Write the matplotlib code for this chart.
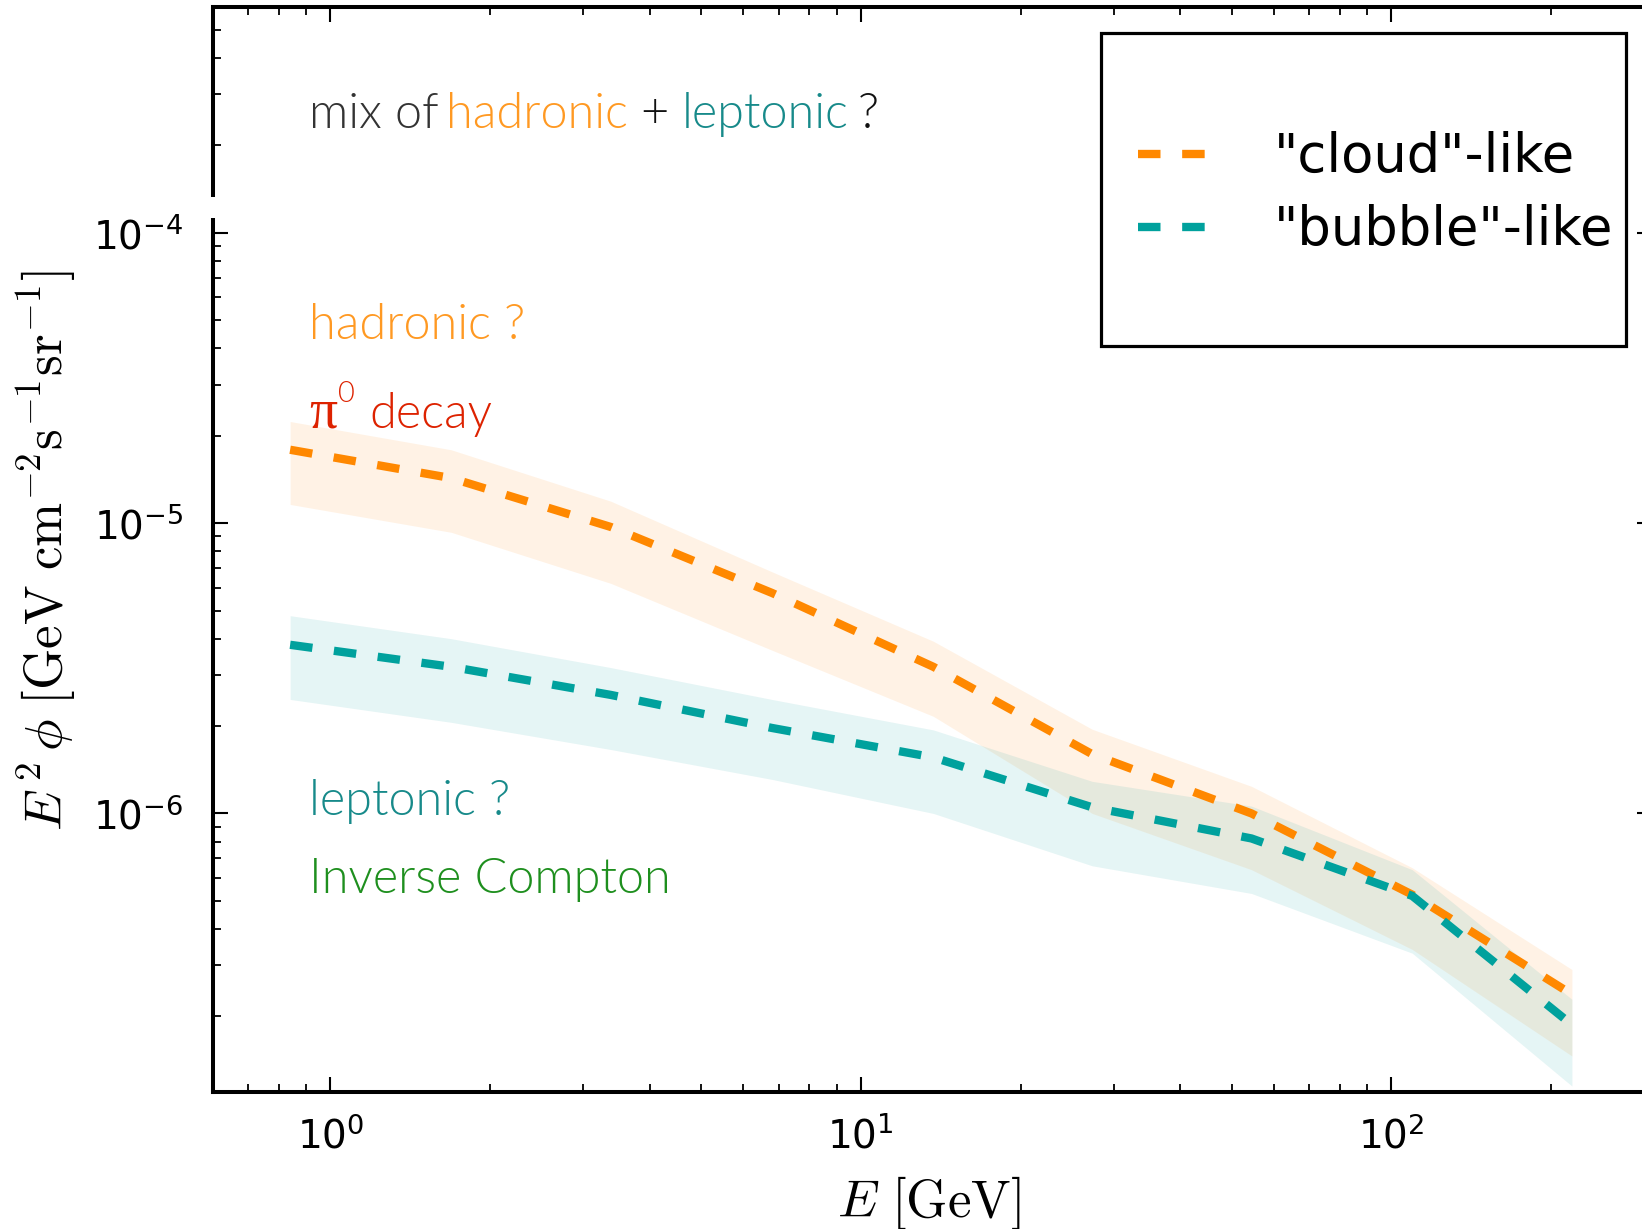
import matplotlib
matplotlib.use("Agg")
import matplotlib.pyplot as plt
from matplotlib import font_manager as fm
from matplotlib.font_manager import FontProperties
from matplotlib.patches import Rectangle
from matplotlib import patheffects as pe
from matplotlib.ticker import LogLocator, FuncFormatter, NullFormatter

# ---------------- data ----------------
energy = [0.84, 1.69, 3.38, 6.8, 13.7, 27.3, 54.5, 109.5, 219.0]

cloud_mid = [1.79e-5, 1.43e-5, 9.7e-6, 5.75e-6, 3.2e-6, 1.6e-6, 1.0e-6, 5.25e-7, 2.38e-7]
cloud_hi = [2.24e-5, 1.79e-5, 1.19e-5, 6.8e-6, 3.92e-6, 1.95e-6, 1.24e-6, 6.5e-7, 2.9e-7]
cloud_lo = [1.16e-5, 9.3e-6, 6.2e-6, 3.65e-6, 2.16e-6, 1.0e-6, 6.4e-7, 3.4e-7, 1.46e-7]

bubble_mid = [3.81e-6, 3.2e-6, 2.56e-6, 1.97e-6, 1.56e-6, 1.05e-6, 8.2e-7, 5.2e-7, 1.87e-7]
bubble_hi = [4.8e-6, 4.0e-6, 3.18e-6, 2.47e-6, 1.94e-6, 1.29e-6, 1.06e-6, 6.4e-7, 2.29e-7]
bubble_lo = [2.47e-6, 2.06e-6, 1.66e-6, 1.31e-6, 1.0e-6, 6.6e-7, 5.3e-7, 3.3e-7, 1.15e-7]

series_labels = ['"cloud"-like', '"bubble"-like']

# ---------------- styling ----------------
ORANGE = "#FF8800"
TEAL = "#00A19D"
C_ORANGE_TXT = "#FF9922"
C_TEAL_TXT = "#178A8A"
C_RED_TXT = "#DD2200"
C_GREEN_TXT = "#1E8F1E"
C_DARK = "#333333"

plt.rcParams["mathtext.fontset"] = "dejavusans"

W, H = 1642, 1229
AX_L, AX_R, AX_T, AX_B = 212.6, 1652.0, 7.0, 1091.7
AX_W, AX_H = AX_R - AX_L, AX_B - AX_T

fig = plt.figure(figsize=(W / 100, H / 100), dpi=100)
ax = fig.add_axes([AX_L / W, 1 - AX_B / H, AX_W / W, AX_H / H])

ax.set_xscale("log")
ax.set_yscale("log")
ax.set_xlim(0.6, 310)
ax.set_ylim(1.1e-7, 6e-4)

# bands
ax.fill_between(energy, cloud_lo, cloud_hi, color=ORANGE, alpha=0.1, lw=0, zorder=1)
ax.fill_between(energy, bubble_lo, bubble_hi, color="#00A0A0", alpha=0.1, lw=0, zorder=1)

# lines
l1, = ax.plot(energy, cloud_mid, color=ORANGE, lw=6, ls=(0, (2.7, 2.6)),
              label=series_labels[0], zorder=3)
l2, = ax.plot(energy, bubble_mid, color=TEAL, lw=6, ls=(0, (2.7, 2.6)),
              label=series_labels[1], zorder=4)

# spines & ticks
for sp in ax.spines.values():
    sp.set_linewidth(2.9)
ax.tick_params(which="both", direction="in", top=True, right=True)
ax.tick_params(which="major", length=11, width=1.5, labelsize=28)
ax.tick_params(which="minor", length=6, width=1.3)
ax.tick_params(axis="y", which="major", pad=21)
ax.tick_params(axis="x", which="major", pad=18)

ax.xaxis.set_major_locator(LogLocator(base=10, numticks=20))
ax.xaxis.set_minor_locator(LogLocator(base=10, subs=range(2, 10), numticks=50))
ax.yaxis.set_major_locator(LogLocator(base=10, numticks=20))
ax.yaxis.set_minor_locator(LogLocator(base=10, subs=range(2, 10), numticks=50))


def fmt(v, pos):
    import math
    e = int(round(math.log10(v)))
    return r"$\mathdefault{10^{%d}}$" % e


ax.xaxis.set_major_formatter(FuncFormatter(fmt))
ax.yaxis.set_major_formatter(FuncFormatter(fmt))
ax.xaxis.set_minor_formatter(NullFormatter())
ax.yaxis.set_minor_formatter(NullFormatter())

# axis labels (Computer Modern look)
ax.set_xlabel(r"$E\ [\mathrm{GeV}]$", fontsize=38, math_fontfamily="cm", va="top")
ax.xaxis.set_label_coords((929 - AX_L) / AX_W, (AX_B - 1174) / AX_H)
ax.set_ylabel(r"$E^{\,2}\,\phi\ [\mathrm{GeV\ cm^{-2}s^{-1}sr^{-1}}]$",
              fontsize=38, math_fontfamily="cm")
ax.yaxis.set_label_coords((78 - AX_L) / AX_W, (AX_B - 551) / AX_H)


# ---------------- annotation font (light sans) ----------------
def pick_light():
    for fam in ["Lato", "Open Sans", "Roboto", "Noto Sans", "Inter", "DejaVu Sans"]:
        cands = []
        for f in fm.fontManager.ttflist:
            if f.name == fam and f.style == "normal" and f.stretch == "normal":
                w = f.weight if isinstance(f.weight, int) else fm.weight_dict.get(f.weight, 400)
                cands.append((abs(w - 300), w, f.fname))
        if cands:
            cands.sort()
            if cands[0][1] <= 350:
                return cands[0][2]
    return None


light_path = pick_light()
THIN = [pe.Normal(), pe.Stroke(linewidth=1.1, foreground="white")] if light_path is None else None


def light_fp(size):
    if light_path:
        return FontProperties(fname=light_path, size=size)
    return FontProperties(family="Lato", size=size)


ANN = 35


def ftext(xpx, ybase, s, color, fp, thin=True):
    t = ax.text((xpx - AX_L) / AX_W, (AX_B - ybase) / AX_H, s, transform=ax.transAxes,
                color=color, fontproperties=fp, ha="left", va="baseline", zorder=6)
    if thin and THIN:
        t.set_path_effects(THIN)
    return t


fp = light_fp(ANN)
# top line
ftext(309, 127.7, "mix of", C_DARK, fp)
ftext(446, 127.7, "hadronic", C_ORANGE_TXT, fp)
ftext(640, 127.7, "+", "#111111", fp)
ftext(682, 127.7, "leptonic", C_TEAL_TXT, fp)
ftext(858, 127.7, "?", "#111111", fp)

ftext(309, 339, "hadronic ?", C_ORANGE_TXT, fp)

# pi0 decay
ftext(309, 428, "π", C_RED_TXT, FontProperties(family="Liberation Serif", size=40))
ftext(338, 402, "0", C_RED_TXT, light_fp(21))
ftext(369, 428, "decay", C_RED_TXT, fp)

ftext(309, 815, "leptonic ?", C_TEAL_TXT, fp)
ftext(309, 893, "Inverse Compton", C_GREEN_TXT, fp)

# ---------------- legend ----------------
leg = ax.legend(handles=[l1, l2], loc="upper left", frameon=False, fontsize=38,
                handlelength=1.27, handletextpad=1.32, labelspacing=0.40,
                borderpad=0, borderaxespad=0,
                bbox_to_anchor=(1137.5 / W, 1 - 131 / H),
                bbox_transform=fig.transFigure)
leg.set_zorder(7)
frame = Rectangle((1101 / W, 1 - 346 / H), (1626 - 1101) / W, (346 - 33) / H,
                  transform=fig.transFigure, fill=False, lw=2.3, ec="black", zorder=8)
fig.add_artist(frame)

# small white gap over the left spine (as in the reference)
gap = Rectangle((205 / W, 1 - 218 / H), 16 / W, 21 / H, transform=fig.transFigure,
                fc="white", ec="none", zorder=9)
fig.add_artist(gap)

fig.savefig("out.png", dpi=100)
